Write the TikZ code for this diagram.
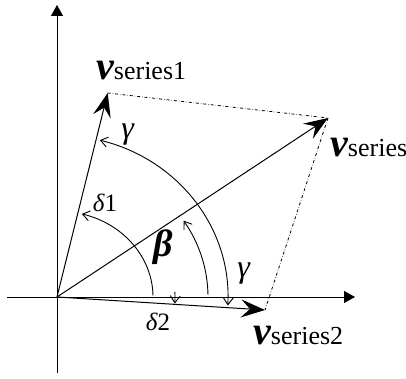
\documentclass[tikz,border=0pt]{standalone}
\usepackage{fontspec}
\setmainfont{Liberation Serif}
\usetikzlibrary{arrows.meta}
\tikzset{
  axisline/.style = {-{Triangle[length=11pt,width=12pt]}, line width=0.9pt},
  vecline/.style  = {-{Stealth[length=24pt,width=18pt,inset=9pt]}, line width=1pt},
  sideline/.style = {dash dot, line width=0.8pt},
  anglearc/.style = {-{Straight Barb[length=7pt,width=10pt]}, line width=0.9pt},
  veclbl/.style   = {anchor=base west, inner sep=0pt},
  anglbl/.style   = {inner sep=0pt, font=\fontsize{25}{25}\selectfont}
}
\newcommand{\vsym}[1]{{\fontsize{40}{40}\selectfont\bfseries\itshape v}{\fontsize{26}{26}\selectfont #1}}
\begin{document}
\begin{tikzpicture}[x=1pt, y=1pt]
  \useasboundingbox (-57,-82) rectangle (349,297);
  % Axes
  \coordinate (O)  at (0,0);
  \coordinate (xl) at (-50,0);
  \coordinate (xr) at (298,0);
  \coordinate (yb) at (0,-76);
  \coordinate (yt) at (0,292);
  \draw[axisline] (xl)--(xr);
  \draw[axisline] (yb)--(yt);
  % Vectors
  \coordinate (vs1) at (50.7,204);
  \coordinate (vs)  at (271,179);
  \coordinate (vs2) at (208,-13);
  \draw[sideline] (vs1)--(vs);
  \draw[sideline] (vs)--(vs2);
  \draw[vecline] (O)--(vs1);
  \draw[vecline] (O)--(vs);
  \draw[vecline] (O)--(vs2);
  % Vector labels
  \node[veclbl] (lvs1) at (39,217)  {\vsym{series1}};
  \node[veclbl] (lvs)  at (273,140) {\vsym{series}};
  \node[veclbl] (lvs2) at (196,-48) {\vsym{series2}};
  % Angles
  \draw[anglearc] ([shift={(1:96 and 86)}]O) arc[start angle=1, end angle=75, x radius=96, y radius=86];
  \draw[anglearc] ([shift={(1:151 and 140)}]O) arc[start angle=1, end angle=33, x radius=151, y radius=140];
  \draw[anglearc] ([shift={(2.5:118)}]O) arc[start angle=2.5, end angle=-3.2, radius=118];
  \draw[anglearc, {Straight Barb[length=7pt,width=10pt]}-{Straight Barb[length=7pt,width=10pt]}]
    ([shift={(-3:171 and 162)}]O) arc[start angle=-3, end angle=75.5, x radius=171, y radius=162];
  % Angle labels
  \node[anglbl] (ld1) at (48,94)   {\textit{δ}1};
  \node[anglbl] (ld2) at (101,-25) {\textit{δ}2};
  \node[anglbl, font=\fontsize{32}{32}\selectfont] (lg1) at (71,162) {\textit{γ}};
  \node[anglbl, font=\fontsize{32}{32}\selectfont] (lg2) at (187,23) {\textit{γ}};
  \node[anglbl, font=\fontsize{38}{38}\selectfont] (lb) at (106,50) {\textbf{\textit{β}}};
\end{tikzpicture}
\end{document}
